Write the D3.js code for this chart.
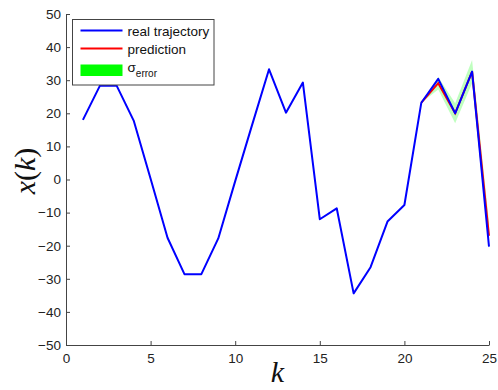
<!DOCTYPE html>
<html>
<head>
<meta charset="utf-8">
<script src="https://cdn.jsdelivr.net/npm/d3@7/dist/d3.min.js"></script>
<style>
  html, body { margin: 0; padding: 0; background: #fff; }
  svg { display: block; }
  .tick text { font-family: "Liberation Sans", Arial, sans-serif; font-size: 13.5px; fill: #222; }
</style>
</head>
<body>
<svg id="chart" width="498" height="390"></svg>
<script>
// Time steps and trajectory values
const steps = [1,2,3,4,5,6,7,8,9,10,11,12,13,14,15,16,17,18,19,20,21,22,23,24,25];
const realTrajectory = [18, 28.3, 28.3, 17.8, 0.2, -17.6, -28.6, -28.6, -17.8, -0.5,
                        16.5, 33.3, 20.2, 29.3, -12.0, -8.7, -34.4, -26.5, -12.7, -7.7,
                        23.2, 30.4, 20.0, 32.6, -20.3];
// Prediction horizon
const predSteps = [21, 22, 23, 24, 25];
const prediction = [23.2, 29.1, 20.0, 32.6, -17.0];
const sigmaError = [0, 1.9, 3.0, 3.5, 4.0];

const xTicks = [0, 5, 10, 15, 20, 25];
const yTicks = [-50, -40, -30, -20, -10, 0, 10, 20, 30, 40, 50];
const legendLabels = ["real trajectory", "prediction", "σ"];

const W = 498, H = 390;
const margin = { left: 66, right: 9, top: 14, bottom: 45 };

const svg = d3.select("#chart");
const x = d3.scaleLinear().domain([0, 25]).range([margin.left, W - margin.right]);
const y = d3.scaleLinear().domain([-50, 50]).range([H - margin.bottom, margin.top]);

const axisColor = "#444";

// Axes with ticks pointing inward
const xAxis = svg.append("g")
  .attr("transform", `translate(0,${H - margin.bottom})`)
  .call(d3.axisBottom(x).tickValues(xTicks).tickSizeInner(-4).tickSizeOuter(0).tickPadding(8));
const yAxis = svg.append("g")
  .attr("transform", `translate(${margin.left},0)`)
  .call(d3.axisLeft(y).tickValues(yTicks).tickSizeInner(-4).tickSizeOuter(0).tickPadding(5));
[xAxis, yAxis].forEach(g => {
  g.select(".domain").attr("stroke", axisColor);
  g.selectAll(".tick line").attr("stroke", axisColor);
});

const predData = predSteps.map((k, i) => ({ k, v: prediction[i], s: sigmaError[i] }));
const realData = steps.map((k, i) => ({ k, v: realTrajectory[i] }));

// Error band around the prediction
svg.append("path")
  .datum(predData)
  .attr("fill", "#00ff00")
  .attr("fill-opacity", 0.25)
  .attr("d", d3.area().x(d => x(d.k)).y0(d => y(d.v - d.s)).y1(d => y(d.v + d.s)));

// Prediction line
svg.append("path")
  .datum(predData)
  .attr("fill", "none")
  .attr("stroke", "#ff0000")
  .attr("stroke-width", 2)
  .attr("d", d3.line().x(d => x(d.k)).y(d => y(d.v)));

// Real trajectory
svg.append("path")
  .datum(realData)
  .attr("fill", "none")
  .attr("stroke", "#0000ff")
  .attr("stroke-width", 2)
  .attr("stroke-linejoin", "round")
  .attr("d", d3.line().x(d => x(d.k)).y(d => y(d.v)));

// Legend
const lg = svg.append("g").attr("transform", "translate(72.5,19.5)");
lg.append("rect").attr("width", 141.5).attr("height", 65.5)
  .attr("fill", "#fff").attr("stroke", "#444").attr("stroke-width", 1);
const font = "'Liberation Sans', Arial, sans-serif";
lg.append("line").attr("x1", 8).attr("x2", 50).attr("y1", 11).attr("y2", 11)
  .attr("stroke", "#0000ff").attr("stroke-width", 2);
lg.append("line").attr("x1", 8).attr("x2", 50).attr("y1", 29).attr("y2", 29)
  .attr("stroke", "#ff0000").attr("stroke-width", 2);
lg.append("rect").attr("x", 8).attr("y", 45).attr("width", 42).attr("height", 11.5)
  .attr("fill", "#00ff00");
lg.append("text").attr("x", 55).attr("y", 16).attr("font-family", font)
  .attr("font-size", "13.5px").attr("fill", "#111").text(legendLabels[0]);
lg.append("text").attr("x", 55).attr("y", 34).attr("font-family", font)
  .attr("font-size", "13.5px").attr("fill", "#111").text(legendLabels[1]);
const sig = lg.append("text").attr("x", 55).attr("y", 52).attr("font-family", font)
  .attr("font-size", "13.5px").attr("fill", "#111");
sig.append("tspan").text(legendLabels[2]);
sig.append("tspan").attr("dy", 5).attr("font-size", "10px").text("error");

// Axis titles
svg.append("text")
  .attr("x", (x(0) + x(25)) / 2).attr("y", 382)
  .attr("text-anchor", "middle")
  .attr("font-family", "'Liberation Serif', 'Times New Roman', serif")
  .attr("font-style", "italic").attr("font-size", "30px").attr("fill", "#111")
  .text("k");

const yl = svg.append("text")
  .attr("transform", "translate(35,171) rotate(-90)")
  .attr("text-anchor", "middle")
  .attr("font-family", "'Liberation Serif', 'Times New Roman', serif")
  .attr("font-size", "30px").attr("fill", "#111");
yl.append("tspan").attr("font-style", "italic").text("x");
yl.append("tspan").text("(");
yl.append("tspan").attr("font-style", "italic").text("k");
yl.append("tspan").text(")");
</script>
</body>
</html>
